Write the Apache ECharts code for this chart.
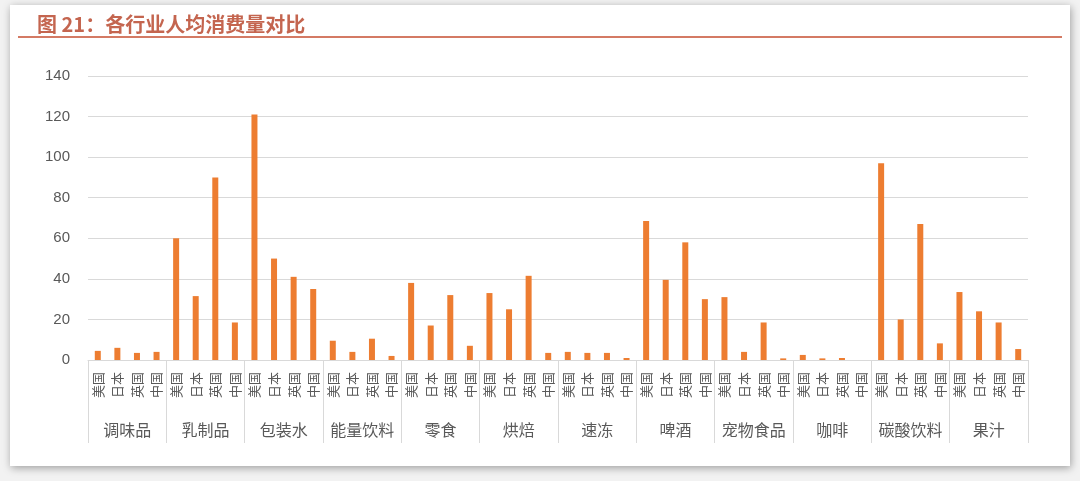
<!DOCTYPE html>
<html>
<head>
<meta charset="utf-8">
<script src="https://cdn.jsdelivr.net/npm/echarts@6/dist/echarts.min.js"></script>
<style>
  html, body { margin: 0; padding: 0; background: #f2f2f2; }
  #main { width: 1080px; height: 481px; }
</style>
</head>
<body>
<div id="main"></div>
<script>
// 行业分组 / 国家
const industries = ['调味品', '乳制品', '包装水', '能量饮料', '零食', '烘焙', '速冻', '啤酒', '宠物食品', '咖啡', '碳酸饮料', '果汁'];
const countries = ['美国', '日本', '英国', '中国'];

// 每个行业 [美国, 日本, 英国, 中国]
const seasoning = [4.5, 6, 3.5, 4];
const dairy = [60, 31.5, 90, 18.5];
const bottledWater = [121, 50, 41, 35];
const energyDrink = [9.5, 4, 10.5, 2];
const snacks = [38, 17, 32, 7];
const bakery = [33, 25, 41.5, 3.5];
const frozen = [4, 3.5, 3.5, 1];
const beer = [68.5, 39.5, 58, 30];
const petFood = [31, 4, 18.5, 0.8];
const coffee = [2.5, 0.8, 1, 0];
const softDrink = [97, 20, 67, 8.2];
const juice = [33.5, 24, 18.5, 5.4];

const yTicks = [0, 20, 40, 60, 80, 100, 120, 140];

const groups = [seasoning, dairy, bottledWater, energyDrink, snacks, bakery, frozen, beer, petFood, coffee, softDrink, juice];

// 展开成 48 个类目
let countryCats = [];
let values = [];
groups.forEach((g) => {
  g.forEach((v, i) => {
    countryCats.push(countries[i]);
    values.push(v);
  });
});

const chart = echarts.init(document.getElementById('main'));

const labelColor = '#595959';
const lineColor = '#d9d9d9';

const option = {
  backgroundColor: 'transparent',
  graphic: [
    {
      type: 'rect',
      shape: { x: 10, y: 5, width: 1060, height: 461 },
      style: { fill: '#ffffff', shadowBlur: 8, shadowColor: 'rgba(0,0,0,0.35)', shadowOffsetX: 1, shadowOffsetY: 2 },
      z: -10
    },
    {
      type: 'line',
      shape: { x1: 18, y1: 37, x2: 1062, y2: 37 },
      style: { stroke: '#d47a64', lineWidth: 2 },
      z: 5
    }
  ],
  title: {
    text: '图 21：各行业人均消费量对比',
    left: 32,
    top: 9,
    textStyle: {
      fontFamily: 'Noto Sans CJK SC',
      fontSize: 20,
      fontWeight: 'bold',
      color: '#c4654f'
    }
  },
  grid: {
    left: 88,
    right: 52,
    top: 76,
    bottom: 121
  },
  xAxis: [
    {
      type: 'category',
      data: countryCats,
      position: 'bottom',
      axisLine: { show: true, lineStyle: { color: lineColor } },
      axisTick: { show: false },
      axisLabel: {
        interval: 0,
        rotate: 90,
        margin: 12,
        fontSize: 13,
        color: labelColor,
        fontFamily: 'Noto Sans CJK SC'
      }
    },
    {
      type: 'category',
      data: industries,
      position: 'bottom',
      offset: 0,
      axisLine: { show: false },
      axisTick: {
        show: true,
        length: 83,
        lineStyle: { color: lineColor }
      },
      axisLabel: {
        interval: 0,
        margin: 62,
        fontSize: 16,
        color: labelColor,
        fontFamily: 'Noto Sans CJK SC'
      }
    }
  ],
  yAxis: {
    type: 'value',
    min: yTicks[0],
    max: yTicks[yTicks.length - 1],
    interval: 20,
    axisLine: { show: false },
    axisTick: { show: false },
    axisLabel: {
      fontSize: 15,
      color: labelColor,
      margin: 18,
      fontFamily: 'Liberation Sans'
    },
    splitLine: { lineStyle: { color: lineColor } }
  },
  series: [
    {
      type: 'bar',
      xAxisIndex: 0,
      barWidth: 6,
      data: values,
      itemStyle: { color: '#ed7d31' }
    }
  ]
};

chart.setOption(option);
</script>
</body>
</html>
